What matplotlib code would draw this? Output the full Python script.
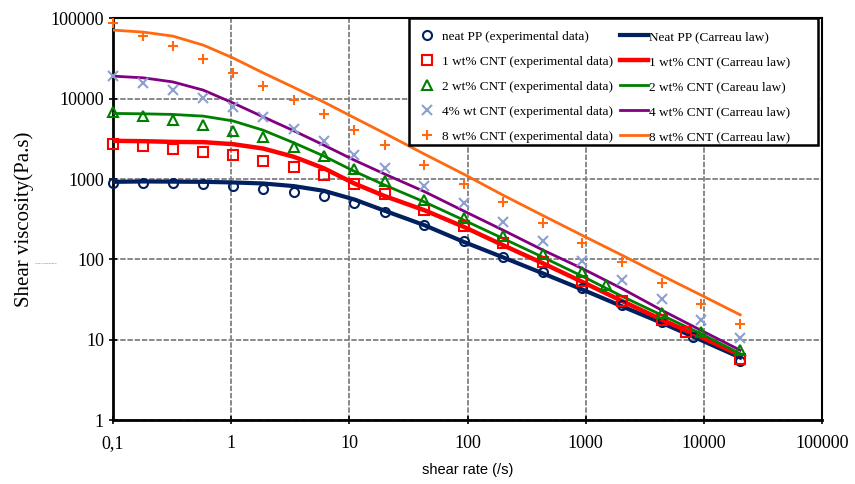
import matplotlib
matplotlib.use("Agg")
import matplotlib.pyplot as plt
from matplotlib.patches import Rectangle

# shear rates (1/s) of the measured points
shear_rate = [0.1, 0.18, 0.32, 0.58, 1.03, 1.86, 3.4, 6.1, 11, 20,
              43, 93, 200, 437, 935, 2020, 4400, 9440, 20300]
neat_pp_rate = [0.1, 0.18, 0.32, 0.58, 1.03, 1.86, 3.4, 6.1, 11, 20,
                43, 93, 200, 437, 935, 2020, 4400, 8100, 20300]
cnt1_rate = [0.1, 0.18, 0.32, 0.58, 1.03, 1.86, 3.4, 6.1, 11, 20,
             43, 93, 200, 437, 935, 2020, 4400, 7100, 20300]
cnt2_rate = [0.1, 0.18, 0.32, 0.58, 1.03, 1.86, 3.4, 6.1, 11, 20,
             43, 93, 200, 437, 935, 1500, 4400, 9440, 20300]

# experimental viscosities (Pa.s)
neat_pp_exp = [881, 881, 897, 864, 816, 756, 693, 612, 497, 391,
               267, 169, 107, 70, 44, 27.4, 16.4, 10.8, 5.5]
cnt1_exp = [2700, 2570, 2400, 2180, 1990, 1690, 1410, 1130, 880, 643,
            410, 259, 162, 92, 54, 30.4, 17.8, 12.3, 5.8]
cnt2_exp = [6800, 6120, 5410, 4690, 3980, 3300, 2470, 1930, 1340, 950,
            546, 329, 198, 116, 70, 47.7, 21.8, 12.6, 7.4]
cnt4_exp = [19100, 15800, 12800, 10100, 7930, 5850, 4220, 2990, 1990, 1380,
            816, 497, 291, 169, 96, 56, 31.7, 17.8, 10.4]
cnt8_exp = [86700, 60200, 45200, 31400, 21000, 14600, 9600, 6370, 4060, 2640,
            1490, 857, 511, 285, 161, 92, 51.3, 28, 15.9]

# Carreau law curves read at the same shear rates
neat_pp_fit = [923, 933, 928, 923, 907, 881, 816, 713, 557, 402,
               267, 165, 106, 66.7, 42.2, 26.1, 16.2, 9.9, 6.0]
cnt1_fit = [2990, 2960, 2900, 2880, 2720, 2400, 1890, 1360, 881, 612,
            410, 254, 150, 89, 52.5, 30.4, 17.8, 10.8, 6.4]
cnt2_fit = [6560, 6490, 6370, 6070, 5300, 4060, 2820, 1930, 1250, 839,
            520, 308, 182, 106, 61.8, 34.8, 20.2, 11.9, 6.7]
cnt4_fit = [19100, 18200, 16200, 12800, 8890, 5950, 3980, 2640, 1720, 1150,
            700, 400, 231, 130, 77, 43.4, 23.3, 13.1, 7.4]
cnt8_fit = [71500, 67500, 60200, 46500, 32300, 21000, 13800, 9070, 5800, 3700,
            2050, 1150, 630, 350, 199, 113, 63, 36, 20.4]

x_ticks = [0.1, 1, 10, 100, 1000, 10000, 100000]
x_labels = ['0,1', '1', '10', '100', '1000', '10000', '100000']
y_ticks = [1, 10, 100, 1000, 10000, 100000]
y_labels = ['1', '10', '100', '1000', '10000', '100000']

serif = 'Liberation Serif'

fig = plt.figure(figsize=(8.55, 4.84), dpi=100)
ax = fig.add_axes([0.1322, 0.1322, 0.8292, 0.8298])
ax.set_xscale('log')
ax.set_yscale('log')
ax.set_xlim(0.1, 100000)
ax.set_ylim(1, 100000)

navy = '#002060'
red = '#ff0000'
green = '#008000'
lblue = '#8c9fd0'
purple = '#800080'
orange = '#ff6a10'

mk = dict(linestyle='none', markersize=6.5, markeredgewidth=1.5,
          markerfacecolor='none', clip_on=False, zorder=4)

h0, = ax.plot(neat_pp_rate, neat_pp_exp, marker='o', markeredgecolor=navy,
              label='neat PP (experimental data)', **mk)
h1, = ax.plot(cnt1_rate, cnt1_exp, marker='s', markeredgecolor=red,
              label='1 wt% CNT (experimental data)', **mk)
h2, = ax.plot(cnt2_rate, cnt2_exp, marker='^', markeredgecolor=green,
              label='2 wt% CNT (experimental data)', **mk)
h3, = ax.plot(shear_rate, cnt4_exp, marker='x', markeredgecolor=lblue,
              label='4% wt CNT (experimental data)', **mk)
h4, = ax.plot(shear_rate, cnt8_exp, marker='+', markeredgecolor=orange,
              label='8 wt% CNT (experimental data)', **dict(mk, markersize=7.5))

l0, = ax.plot(shear_rate, neat_pp_fit, color=navy, lw=3, zorder=3,
              label='Neat PP (Carreau law)')
l1, = ax.plot(shear_rate, cnt1_fit, color=red, lw=3.2, zorder=3,
              label='1 wt% CNT (Carreau law)')
l2, = ax.plot(shear_rate, cnt2_fit, color=green, lw=2, zorder=3,
              label='2 wt% CNT (Careau law)')
l3, = ax.plot(shear_rate, cnt4_fit, color=purple, lw=2, zorder=3,
              label='4 wt% CNT (Carreau law)')
l4, = ax.plot(shear_rate, cnt8_fit, color=orange, lw=2, zorder=3,
              label='8 wt% CNT (Carreau law)')

ax.grid(True, which='major', color='#808080', linestyle=(0, (3, 1)), linewidth=1.3)
ax.minorticks_off()
ax.set_xticks(x_ticks)
ax.set_xticklabels(x_labels)
ax.set_yticks(y_ticks)
ax.set_yticklabels(y_labels)
ax.tick_params(axis='both', direction='inout', length=6, width=1.2,
               labelsize=13, colors='black')
ax.tick_params(axis='x', pad=8)
for lab in ax.get_xticklabels() + ax.get_yticklabels():
    lab.set_fontfamily(serif)

for side in ['left', 'bottom']:
    ax.spines[side].set_linewidth(2)
for side in ['top', 'right']:
    ax.spines[side].set_linewidth(1.5)

ax.set_ylabel('Shear viscosity(Pa.s)', fontfamily=serif, fontsize=15, labelpad=12)
ax.set_xlabel('shear rate (/s)', fontfamily='Liberation Sans', fontsize=10.5, labelpad=8)

fig.text(0.054, 0.456, 'Shear viscosity(Pa.s)', fontsize=1.5, color='#666666',
         ha='center', va='center')

# legend box drawn separately so its padding matches the original
box = Rectangle((0.4175, 0.685), 0.577, 0.3165, transform=ax.transAxes,
                facecolor='white', edgecolor='black', linewidth=1.8,
                zorder=5, clip_on=False)
ax.add_patch(box)

leg = ax.legend(handles=[h0, h1, h2, h3, h4, l0, l1, l2, l3, l4], ncol=2,
                loc='upper left', bbox_to_anchor=(0.4238, 0.9695), borderaxespad=0,
                prop={'family': serif, 'size': 9.5}, frameon=False,
                handlelength=2.1, handletextpad=0.08, columnspacing=0.5,
                labelspacing=0.97, borderpad=0)
leg.set_zorder(6)

fig.savefig('out.png', dpi=100, facecolor='white')
